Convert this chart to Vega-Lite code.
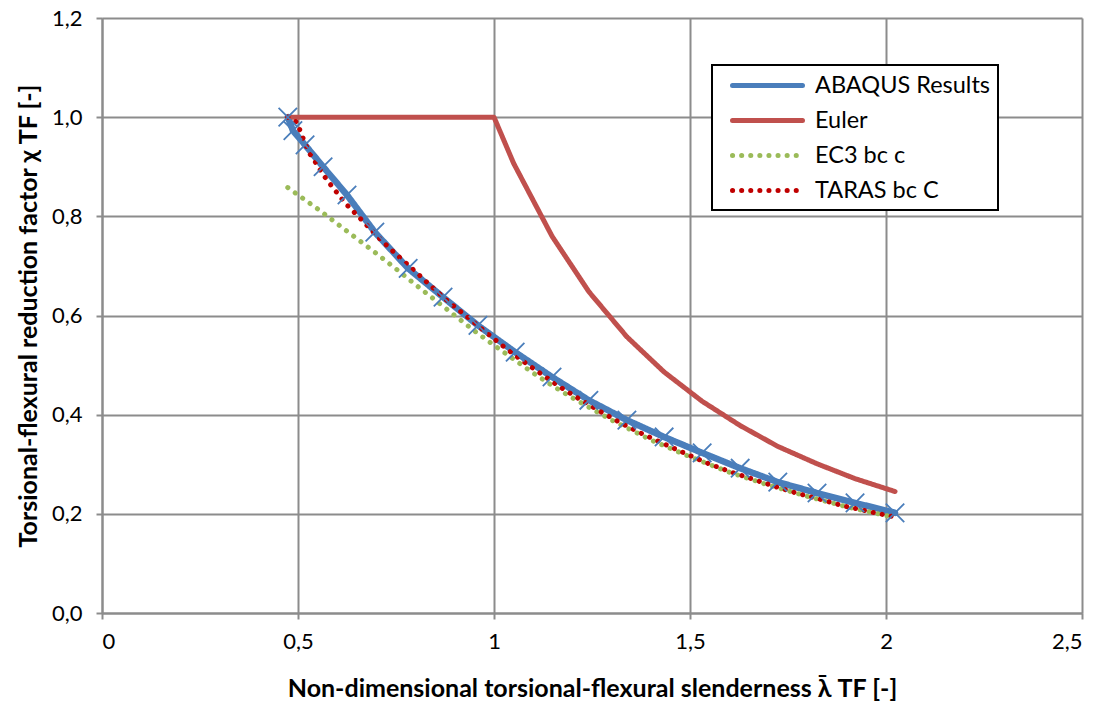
{
  "$schema": "https://vega.github.io/schema/vega-lite/v6.json",
  "width": 980,
  "height": 595,
  "autosize": {"type": "none"},
  "padding": {"left": 102, "top": 18, "right": 24, "bottom": 96},
  "background": "white",
  "config": {
    "font": "Lato",
    "view": {"stroke": null},
    "axis": {
      "domainColor": "#8c8c8c",
      "domainWidth": 2,
      "gridColor": "#8c8c8c",
      "gridWidth": 2,
      "tickColor": "#8c8c8c",
      "tickWidth": 2,
      "tickSize": 6,
      "labelFontSize": 22,
      "labelColor": "#000000",
      "labelFont": "Lato",
      "titleFont": "Lato",
      "titleFontSize": 25,
      "titleFontWeight": "bold",
      "titleColor": "#000000"
    }
  },
  "datasets": {
    "rows": [
      {"series": "ABAQUS Results", "lambda": 0.474, "chi": 1.0},
      {"series": "ABAQUS Results", "lambda": 0.487, "chi": 0.973},
      {"series": "ABAQUS Results", "lambda": 0.518, "chi": 0.944},
      {"series": "ABAQUS Results", "lambda": 0.564, "chi": 0.9},
      {"series": "ABAQUS Results", "lambda": 0.625, "chi": 0.843},
      {"series": "ABAQUS Results", "lambda": 0.696, "chi": 0.768},
      {"series": "ABAQUS Results", "lambda": 0.781, "chi": 0.695},
      {"series": "ABAQUS Results", "lambda": 0.87, "chi": 0.637},
      {"series": "ABAQUS Results", "lambda": 0.959, "chi": 0.58},
      {"series": "ABAQUS Results", "lambda": 1.054, "chi": 0.526},
      {"series": "ABAQUS Results", "lambda": 1.148, "chi": 0.476},
      {"series": "ABAQUS Results", "lambda": 1.242, "chi": 0.429},
      {"series": "ABAQUS Results", "lambda": 1.339, "chi": 0.389},
      {"series": "ABAQUS Results", "lambda": 1.434, "chi": 0.355},
      {"series": "ABAQUS Results", "lambda": 1.531, "chi": 0.323},
      {"series": "ABAQUS Results", "lambda": 1.628, "chi": 0.292},
      {"series": "ABAQUS Results", "lambda": 1.724, "chi": 0.264},
      {"series": "ABAQUS Results", "lambda": 1.824, "chi": 0.242},
      {"series": "ABAQUS Results", "lambda": 1.921, "chi": 0.222},
      {"series": "ABAQUS Results", "lambda": 2.023, "chi": 0.202},
      {"series": "Euler", "lambda": 0.474, "chi": 1.0},
      {"series": "Euler", "lambda": 1.0, "chi": 1.0},
      {"series": "Euler", "lambda": 1.05, "chi": 0.907},
      {"series": "Euler", "lambda": 1.148, "chi": 0.76},
      {"series": "Euler", "lambda": 1.242, "chi": 0.648},
      {"series": "Euler", "lambda": 1.339, "chi": 0.557},
      {"series": "Euler", "lambda": 1.434, "chi": 0.486},
      {"series": "Euler", "lambda": 1.531, "chi": 0.427},
      {"series": "Euler", "lambda": 1.628, "chi": 0.378},
      {"series": "Euler", "lambda": 1.724, "chi": 0.336},
      {"series": "Euler", "lambda": 1.824, "chi": 0.301},
      {"series": "Euler", "lambda": 1.921, "chi": 0.271},
      {"series": "Euler", "lambda": 2.023, "chi": 0.245},
      {"series": "EC3 bc c", "lambda": 0.474, "chi": 0.858},
      {"series": "EC3 bc c", "lambda": 0.55, "chi": 0.815},
      {"series": "EC3 bc c", "lambda": 0.6, "chi": 0.785},
      {"series": "EC3 bc c", "lambda": 0.65, "chi": 0.755},
      {"series": "EC3 bc c", "lambda": 0.7, "chi": 0.725},
      {"series": "EC3 bc c", "lambda": 0.75, "chi": 0.694},
      {"series": "EC3 bc c", "lambda": 0.8, "chi": 0.662},
      {"series": "EC3 bc c", "lambda": 0.85, "chi": 0.631},
      {"series": "EC3 bc c", "lambda": 0.9, "chi": 0.6},
      {"series": "EC3 bc c", "lambda": 0.95, "chi": 0.569},
      {"series": "EC3 bc c", "lambda": 1.0, "chi": 0.54},
      {"series": "EC3 bc c", "lambda": 1.05, "chi": 0.512},
      {"series": "EC3 bc c", "lambda": 1.1, "chi": 0.484},
      {"series": "EC3 bc c", "lambda": 1.15, "chi": 0.458},
      {"series": "EC3 bc c", "lambda": 1.2, "chi": 0.434},
      {"series": "EC3 bc c", "lambda": 1.3, "chi": 0.389},
      {"series": "EC3 bc c", "lambda": 1.4, "chi": 0.349},
      {"series": "EC3 bc c", "lambda": 1.5, "chi": 0.315},
      {"series": "EC3 bc c", "lambda": 1.6, "chi": 0.284},
      {"series": "EC3 bc c", "lambda": 1.7, "chi": 0.258},
      {"series": "EC3 bc c", "lambda": 1.8, "chi": 0.235},
      {"series": "EC3 bc c", "lambda": 1.9, "chi": 0.214},
      {"series": "EC3 bc c", "lambda": 2.02, "chi": 0.193},
      {"series": "TARAS bc C", "lambda": 0.474, "chi": 1.0},
      {"series": "TARAS bc C", "lambda": 0.497, "chi": 0.99},
      {"series": "TARAS bc C", "lambda": 0.508, "chi": 0.968},
      {"series": "TARAS bc C", "lambda": 0.518, "chi": 0.947},
      {"series": "TARAS bc C", "lambda": 0.531, "chi": 0.925},
      {"series": "TARAS bc C", "lambda": 0.548, "chi": 0.905},
      {"series": "TARAS bc C", "lambda": 0.563, "chi": 0.885},
      {"series": "TARAS bc C", "lambda": 0.582, "chi": 0.865},
      {"series": "TARAS bc C", "lambda": 0.601, "chi": 0.846},
      {"series": "TARAS bc C", "lambda": 0.62, "chi": 0.827},
      {"series": "TARAS bc C", "lambda": 0.661, "chi": 0.794},
      {"series": "TARAS bc C", "lambda": 0.703, "chi": 0.759},
      {"series": "TARAS bc C", "lambda": 0.747, "chi": 0.726},
      {"series": "TARAS bc C", "lambda": 0.792, "chi": 0.694},
      {"series": "TARAS bc C", "lambda": 0.837, "chi": 0.661},
      {"series": "TARAS bc C", "lambda": 0.882, "chi": 0.629},
      {"series": "TARAS bc C", "lambda": 0.929, "chi": 0.599},
      {"series": "TARAS bc C", "lambda": 0.975, "chi": 0.569},
      {"series": "TARAS bc C", "lambda": 1.022, "chi": 0.539},
      {"series": "TARAS bc C", "lambda": 1.07, "chi": 0.51},
      {"series": "TARAS bc C", "lambda": 1.119, "chi": 0.483},
      {"series": "TARAS bc C", "lambda": 1.168, "chi": 0.456},
      {"series": "TARAS bc C", "lambda": 1.219, "chi": 0.431},
      {"series": "TARAS bc C", "lambda": 1.272, "chi": 0.406},
      {"series": "TARAS bc C", "lambda": 1.326, "chi": 0.382},
      {"series": "TARAS bc C", "lambda": 1.379, "chi": 0.361},
      {"series": "TARAS bc C", "lambda": 1.434, "chi": 0.341},
      {"series": "TARAS bc C", "lambda": 1.49, "chi": 0.321},
      {"series": "TARAS bc C", "lambda": 1.545, "chi": 0.302},
      {"series": "TARAS bc C", "lambda": 1.602, "chi": 0.285},
      {"series": "TARAS bc C", "lambda": 1.66, "chi": 0.27},
      {"series": "TARAS bc C", "lambda": 1.717, "chi": 0.255},
      {"series": "TARAS bc C", "lambda": 1.775, "chi": 0.241},
      {"series": "TARAS bc C", "lambda": 1.833, "chi": 0.229},
      {"series": "TARAS bc C", "lambda": 1.891, "chi": 0.216},
      {"series": "TARAS bc C", "lambda": 1.949, "chi": 0.206},
      {"series": "TARAS bc C", "lambda": 2.008, "chi": 0.196},
      {"series": "TARAS bc C", "lambda": 2.02, "chi": 0.194}
    ]
  },
  "data": {"name": "rows"},
  "encoding": {
    "x": {
      "field": "lambda",
      "type": "quantitative",
      "scale": {"domain": [0, 2.5], "nice": false, "zero": false},
      "axis": {
        "values": [0, 0.5, 1, 1.5, 2, 2.5],
        "labelExpr": "replace(format(datum.value, '~g'), '.', ',')",
        "labelPadding": 12,
        "title": "Non-dimensional torsional-flexural slenderness λ̄ TF [-]",
        "titlePadding": 24
      }
    },
    "y": {
      "field": "chi",
      "type": "quantitative",
      "scale": {"domain": [0, 1.2], "nice": false, "zero": false},
      "axis": {
        "values": [0, 0.2, 0.4, 0.6, 0.8, 1.0, 1.2],
        "labelExpr": "replace(format(datum.value, '.1f'), '.', ',')",
        "labelPadding": 14,
        "title": "Torsional-flexural reduction factor χ TF [-]",
        "titlePadding": 10
      }
    }
  },
  "layer": [
    {
      "mark": {"type": "line", "strokeCap": "round", "strokeJoin": "round"},
      "encoding": {
        "strokeWidth": {
          "condition": {"test": "datum.series === 'ABAQUS Results'", "value": 6.5},
          "value": 5
        },
        "color": {
          "field": "series",
          "type": "nominal",
          "scale": {
            "domain": ["ABAQUS Results", "Euler", "EC3 bc c", "TARAS bc C"],
            "range": ["#4A7EBB", "#C0504D", "#9BBB59", "#C00000"]
          },
          "legend": {
            "orient": "none",
            "legendX": 610,
            "legendY": 47,
            "title": null,
            "strokeColor": "#000000",
            "fillColor": "#ffffff",
            "padding": 8,
            "symbolType": "stroke",
            "symbolSize": 400,
            "symbolStrokeWidth": 5,
            "rowPadding": 11,
            "labelFontSize": 23.5,
            "labelFont": "Lato",
            "labelColor": "#000000",
            "labelOffset": 70,
            "labelLimit": 400,
            "encode": {
              "symbols": {"update": {"strokeCap": {"value": "round"}, "shape": {"value": "M0,0L7,0"}}},
              "legend": {"update": {"strokeWidth": {"value": 2}}}
            }
          }
        },
        "strokeDash": {
          "field": "series",
          "type": "nominal",
          "scale": {
            "domain": ["ABAQUS Results", "Euler", "EC3 bc c", "TARAS bc C"],
            "range": [[1, 0], [1, 0], [0.1, 9], [0.1, 9]]
          },
          "legend": {
            "orient": "none",
            "legendX": 610,
            "legendY": 47,
            "title": null,
            "strokeColor": "#000000",
            "fillColor": "#ffffff",
            "padding": 8,
            "symbolType": "stroke",
            "symbolSize": 400,
            "symbolStrokeWidth": 5,
            "rowPadding": 11,
            "labelFontSize": 23.5,
            "labelFont": "Lato",
            "labelColor": "#000000",
            "labelOffset": 70,
            "labelLimit": 400,
            "encode": {
              "symbols": {"update": {"strokeCap": {"value": "round"}, "shape": {"value": "M0,0L7,0"}}},
              "legend": {"update": {"strokeWidth": {"value": 2}}}
            }
          }
        }
      }
    },
    {
      "transform": [{"filter": "datum.series === 'ABAQUS Results'"}],
      "mark": {
        "type": "point",
        "shape": "M-1,-1L1,1M-1,1L1,-1",
        "filled": false,
        "stroke": "#4A7EBB",
        "strokeWidth": 1.8,
        "size": 340,
        "opacity": 1
      }
    }
  ]
}
